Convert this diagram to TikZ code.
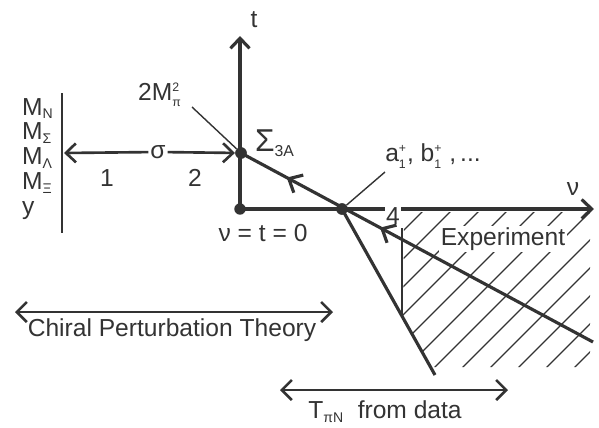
\documentclass[tikz,border=0pt]{standalone}
\usepackage{amsmath}
\usepackage{fontspec}
\setmainfont{Liberation Sans}
\usepackage{tikz}
\usetikzlibrary{
  arrows.meta,
  positioning,
  decorations.markings
}
\definecolor{ink}{HTML}{333333}

\begin{document}
\begin{tikzpicture}[
  x=0.02cm, y=-0.02cm,
  every node/.style={font=\fontsize{14}{16}\selectfont, text=ink, inner sep=1pt},
  axis/.style={draw=ink, line width=1.8pt},
  thin line/.style={draw=ink, line width=0.8pt},
  arr/.style={-{Straight Barb[length=2mm,width=3.8mm]}, draw=ink, line width=1.8pt},
  dbl/.style={{Straight Barb[length=2mm,width=4mm]}-{Straight Barb[length=2mm,width=4mm]}, draw=ink, line width=1.5pt},
  dot/.style={circle, fill=ink, minimum size=6.5pt, inner sep=0pt},
  back/.style={postaction={decorate}, decoration={markings,
      mark=at position 0.13 with {\arrowreversed{Straight Barb[length=2.2mm,width=4mm]}},
      mark=at position 0.395 with {\arrowreversed{Straight Barb[length=2.2mm,width=4mm]}}}},
  hatch/.style={draw=ink, line width=0.7pt},
]
\useasboundingbox (0,0) rectangle (599,427);

% -- Points --------------------------------------
\node[dot] (orig) at (240,209) {};
\node[dot] (sig)  at (241,153) {};
\node[dot] (thr)  at (342,209) {};
\coordinate (ttop)  at (240,36);
\coordinate (vtip)  at (594,209);
\coordinate (mainE) at (593,342);
\coordinate (stE)   at (435,375);
\coordinate (vtop)  at (402,228);
\coordinate (vbot)  at (402,316);

% -- Hatched region ------------------------------
\begin{scope}
  \clip (404,212) -- (590,212) -- (590,367) -- (430,367) -- (403,318) -- cycle;
  \foreach \x in {114,142,...,590}
    \draw[hatch] (\x,380) -- ++(200,-200);
\end{scope}

% -- Axes ----------------------------------------
\draw[arr] (orig.center) -- (ttop);
\draw[arr] (orig.center) -- (vtip);
\node (t)  at (254,20)  {t};
\node (nu) at (573,189) {ν};
\node[fill=white, inner sep=0.5pt] (four) at (393,216) {4};
\node (zero) at (263,233) {ν = t = 0};

% -- Lines ---------------------------------------
\draw[axis, back] (sig.center) -- (mainE);
\draw[axis] (thr.center) -- (stE);
\draw[thin line, line width=1.3pt] (vtop) -- (vbot);
\node[dot] at (sig) {};
\node[dot] at (thr) {};

% -- Labels at the points ------------------------
\node[font=\fontsize{18}{20}\selectfont, anchor=west] (sigl) at (253,143)
  {Σ$_{\text{\fontsize{9}{10}\selectfont 3A}}$};
\node (mpi) at (160,95) {2M$^{\text{\scriptsize 2}}_{\text{\scriptsize π}}$};
\draw[thin line] (192,107) -- (sig);
\node (aone) at (433,156)
  {a$^{\text{\scriptsize +}}_{\text{\scriptsize 1}}$, b$^{\text{\scriptsize +}}_{\text{\scriptsize 1}}$ ,\,...};
\draw[thin line] (385,172) -- (thr);
\node[fill=white] (exp) at (503,239) {Experiment};

% -- Masses and sigma ----------------------------
\coordinate (barT) at (62,93);
\coordinate (barB) at (62,233);
\coordinate (barS) at (64,153);
\draw[axis, line width=1.5pt] (barT) -- (barB);
\node[align=left, anchor=north west, font=\fontsize{14}{14.2}\selectfont] (masses) at (20,96)
  {M$_{\text{\footnotesize N}}$\\M$_{\text{\footnotesize Σ}}$\\M$_{\text{\footnotesize Λ}}$\\M$_{\text{\footnotesize Ξ}}$\\y};
\node (sigma) at (158,152) {σ};
\draw[arr, line width=1.5pt] (sigma) -- (barS);
\draw[arr, line width=1.5pt] (sigma) -- (sig);
\node (one) at (107,178) {1};
\node (two) at (195,178) {2};

% -- Ranges --------------------------------------
\coordinate (cptL) at (15,312);
\coordinate (cptR) at (333,312);
\draw[dbl] (cptL) -- (cptR);
\node (cpt) at (172,330) {Chiral Perturbation Theory};
\coordinate (datL) at (280,390);
\coordinate (datR) at (508,390);
\draw[dbl] (datL) -- (datR);
\node (dat) at (385,412) {T$_{\text{\footnotesize πN}}$ \ from data};

\end{tikzpicture}
\end{document}
